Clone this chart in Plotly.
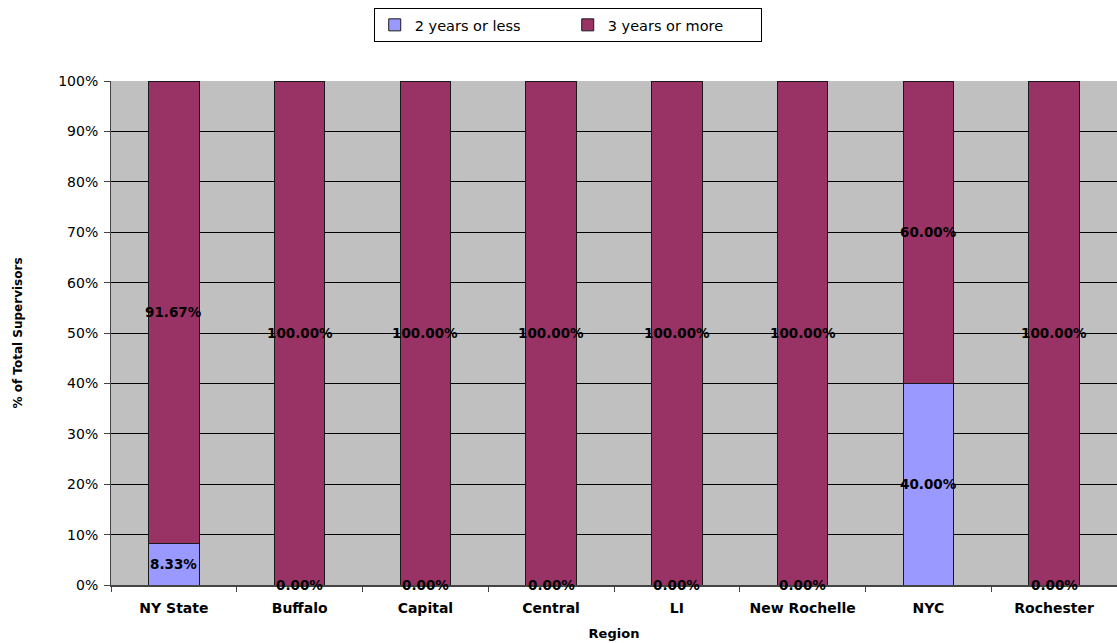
import plotly.graph_objects as go

regions = ["NY State", "Buffalo", "Capital", "Central", "LI", "New Rochelle", "NYC", "Rochester"]
two_or_less = [8.33, 0.00, 0.00, 0.00, 0.00, 0.00, 40.00, 0.00]
three_or_more = [91.67, 100.00, 100.00, 100.00, 100.00, 100.00, 60.00, 100.00]
y_ticks = [0, 10, 20, 30, 40, 50, 60, 70, 80, 90, 100]
y_tick_text = [f"{v}%" for v in y_ticks]

FONT = "DejaVu Sans"
C_LOW = "#9999FF"
C_HIGH = "#993366"

fig = go.Figure()
fig.add_trace(go.Bar(
    name="2 years or less", x=regions, y=two_or_less,
    marker=dict(color=C_LOW, line=dict(color="#1a1a1a", width=1)),
))
fig.add_trace(go.Bar(
    name="3 years or more", x=regions, y=three_or_more,
    marker=dict(color=C_HIGH, line=dict(color="#1a1a1a", width=1)),
))

# value labels centred on each stacked segment
for i, r in enumerate(regions):
    lo, hi = two_or_less[i], three_or_more[i]
    for val, mid in ((lo, lo / 2), (hi, lo + hi / 2)):
        fig.add_annotation(
            x=r, y=mid, text=f"<b>{val:.2f}%</b>", showarrow=False,
            font=dict(family=FONT, size=13.5, color="black"),
            xanchor="center", yanchor="middle",
        )

fig.update_layout(
    barmode="stack",
    bargap=0.6,
    width=1117, height=643,
    margin=dict(l=111, r=0, t=81, b=58, pad=0),
    paper_bgcolor="white",
    plot_bgcolor="#C0C0C0",
    font=dict(family=FONT, color="black"),
    showlegend=True,
    legend=dict(
        orientation="h", x=0.454, xanchor="center", y=1.145, yanchor="top",
        bordercolor="black", borderwidth=1, bgcolor="white",
        font=dict(family=FONT, size=14.5),
        entrywidth=148, entrywidthmode="pixels",
        itemwidth=30,
        traceorder="normal",
    ),
    xaxis=dict(
        title=dict(text="<b>Region</b>", font=dict(family=FONT, size=13), standoff=14),
        tickfont=dict(family=FONT, size=14),
        tickmode="array", tickvals=regions, ticktext=[f"<b>{r}</b>" for r in regions],
        ticks="outside", tickson="boundaries", ticklen=5, tickcolor="#444",
        ticklabelstandoff=9,
        showline=True, linecolor="#444", linewidth=1.5,
        showgrid=False,
        range=[-0.5, 7.5],
    ),
    yaxis=dict(
        title=dict(text="<b>% of Total Supervisors</b>", font=dict(family=FONT, size=12), standoff=32),
        tickfont=dict(family=FONT, size=14),
        tickmode="array", tickvals=y_ticks, ticktext=y_tick_text,
        ticks="outside", ticklen=6, tickcolor="#444",
        ticklabelstandoff=3,
        showline=True, linecolor="#444", linewidth=1,
        showgrid=True, gridcolor="black", gridwidth=1,
        range=[0, 100], zeroline=False,
    ),
)

fig.write_html("out.html")
